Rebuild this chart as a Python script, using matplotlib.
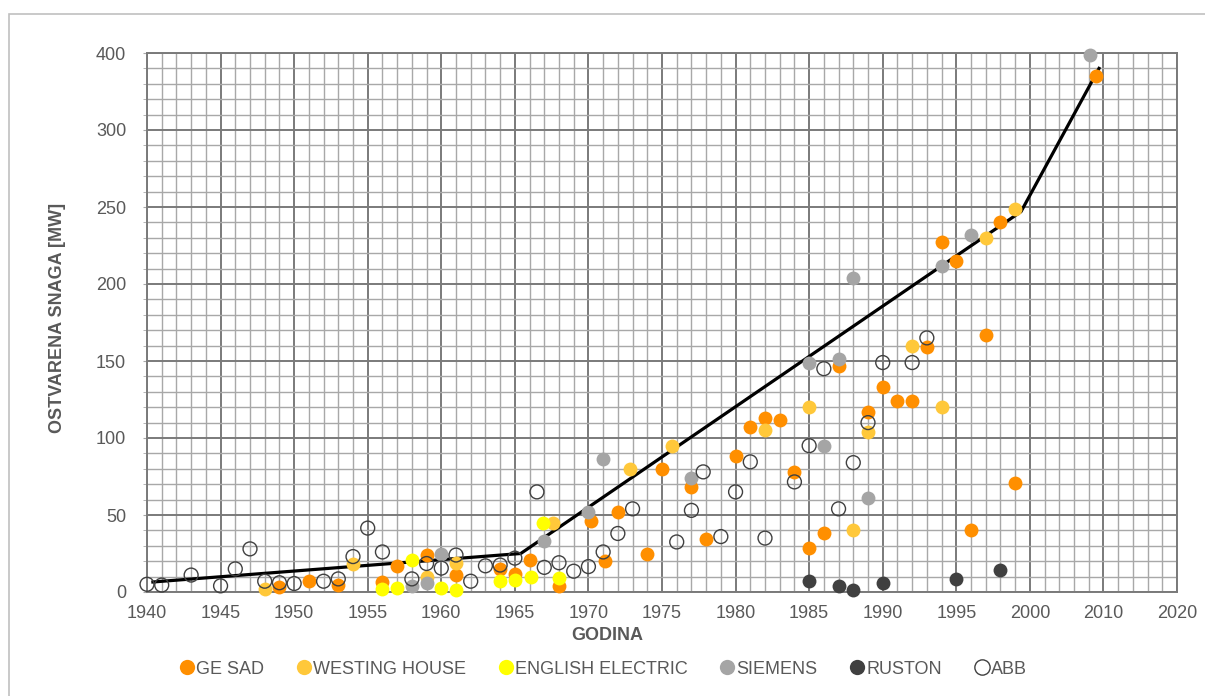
import matplotlib
matplotlib.use('Agg')
import matplotlib.pyplot as plt
from matplotlib.lines import Line2D
from matplotlib.patches import Rectangle
import numpy as np

plt.rcParams['font.family'] = ['Liberation Sans', 'DejaVu Sans']

# Data (positions in axis units)
ge_sad_x = [1949, 1951, 1953, 1956, 1957, 1959, 1961, 1964, 1965, 1966, 1968, 1970.2, 1971.1,
            1972, 1974, 1975, 1977, 1978, 1980, 1981, 1982, 1983, 1984, 1985, 1986, 1987,
            1989, 1990, 1991, 1992, 1993, 1994, 1995, 1996, 1997, 1998, 1999, 2004.5]
ge_sad_y = [3, 7, 4.5, 6.7, 17, 24, 11, 15, 12, 21, 4, 46, 20, 52, 25, 80, 68, 34.5, 88, 107,
            113, 112, 78, 28.5, 38, 147, 117, 133, 124, 124, 159, 227, 215, 40, 167, 240, 71, 335]

westing_x = [1948, 1954, 1959, 1961, 1967.6, 1972.8, 1975.7, 1982, 1985, 1988, 1989, 1992,
             1994, 1997, 1999]
westing_y = [2, 18, 10, 19, 45, 80, 94.5, 105, 120, 40, 104, 160, 120, 230, 249]

english_x = [1956, 1957, 1958, 1960, 1961, 1964, 1965, 1966.1, 1966.9, 1968]
english_y = [2, 2.4, 21, 2.4, 1.5, 7, 8, 10, 45, 9]

siemens_x = [1958, 1959, 1960, 1967, 1970, 1971, 1977, 1985, 1986, 1987, 1988, 1989, 1994,
             1996, 2004.1]
siemens_y = [4, 6, 25, 33, 52, 86.5, 74, 149, 95, 151, 204, 61, 212, 232, 349]

ruston_x = [1985, 1987, 1988, 1990, 1995, 1998]
ruston_y = [7, 4, 1.3, 5.6, 8.4, 14]

abb_x = [1940, 1941, 1943, 1945, 1946, 1947, 1948, 1949, 1950, 1952, 1953, 1954, 1955, 1956,
         1958, 1959, 1960, 1961, 1962, 1963, 1964, 1965, 1966.5, 1967, 1968, 1969, 1970,
         1971, 1972, 1973, 1976, 1977, 1977.8, 1979, 1980, 1981, 1982, 1984, 1985, 1986,
         1987, 1988, 1989, 1990, 1992, 1993]
abb_y = [5, 4.5, 11, 4, 15, 28, 7, 6, 5.5, 7, 8.5, 23, 41.5, 26, 8.5, 18.5, 15.5, 24, 7, 17,
         17.5, 22, 65, 16, 19, 13.5, 16.5, 26, 38, 54, 32.5, 53, 78, 36, 65, 84.5, 35, 71.5,
         95, 145, 54, 84, 110, 149, 149, 165]

trend_x = [1940.4, 1965.4, 1999.4, 2004.7]
trend_y = [6.5, 25, 247, 340]

x_ticks = list(range(1940, 2011, 5))
x_labels = ['1940', '1945', '1950', '1955', '1960', '1965', '1970', '1975', '1980',
            '1985', '1990', '1995', '2000', '2010', '2020']
y_ticks = list(range(0, 351, 50))
y_labels = ['0', '50', '100', '150', '200', '250', '300', '400']

series = [
    ('GE SAD', ge_sad_x, ge_sad_y, '#ff8f00', '#ff8f00'),
    ('WESTING HOUSE', westing_x, westing_y, '#ffc83a', '#ffc83a'),
    ('ENGLISH ELECTRIC', english_x, english_y, '#ffff00', '#ffff00'),
    ('SIEMENS', siemens_x, siemens_y, '#a5a5a5', '#a5a5a5'),
    ('RUSTON', ruston_x, ruston_y, '#404040', '#404040'),
    ('ABB', abb_x, abb_y, 'none', '#404040'),
]

text_color = '#595959'
fig = plt.figure(figsize=(12.05, 6.96), dpi=100)
ax = fig.add_axes([147 / 1205, 1 - 592 / 696, (1177 - 147) / 1205, (592 - 53) / 696])

# outer frame of the chart area
fig.patches.append(Rectangle((9 / 1205, -0.1), 1.2, 1.1 - 14 / 696, transform=fig.transFigure,
                             fill=False, edgecolor='#c0c0c0', linewidth=1.2, zorder=0))

ax.set_xlim(1940, 2010)
ax.set_ylim(0, 350)
ax.set_xticks(x_ticks)
ax.set_xticklabels(x_labels)
ax.set_xticks(np.arange(1940, 2011, 1), minor=True)
ax.set_yticks(y_ticks)
ax.set_yticklabels(y_labels)
ax.set_yticks(np.arange(0, 351, 10), minor=True)

ax.grid(which='minor', color='#a8a8a8', linewidth=1.0)
ax.grid(which='major', color='#7a7a7a', linewidth=1.4)
ax.set_axisbelow(True)
for s in ax.spines.values():
    s.set_color('#7a7a7a')
    s.set_linewidth(1.4)

ax.tick_params(axis='x', which='both', length=0, pad=9, labelsize=13, labelcolor=text_color)
ax.tick_params(axis='y', which='both', length=3, color='#a8a8a8', pad=12, labelsize=13,
               labelcolor=text_color)

ax.plot(trend_x, trend_y, color='black', linewidth=2.3, zorder=2)

handles = []
for name, xs, ys, face, edge in series:
    ax.scatter(xs, ys, s=100, facecolors=face, edgecolors=edge,
               linewidths=1.0 if face == 'none' else 0, zorder=3, clip_on=False)
    handles.append(Line2D([], [], linestyle='none', marker='o', markersize=11,
                          markerfacecolor=face, markeredgecolor=edge,
                          markeredgewidth=1.0 if face == 'none' else 0, label=name))

fig.text(607 / 1205, 1 - 636 / 696, 'GODINA', ha='center', va='center', fontsize=13,
         fontweight='bold', color=text_color)
fig.text(58 / 1205, 1 - 318 / 696, 'OSTVARENA SNAGA [MW]', ha='center', va='center',
         rotation=90, fontsize=13, fontweight='bold', color=text_color)

fig.legend(handles=handles, loc='center', bbox_to_anchor=(0.5, 1 - 669 / 696), ncol=6,
           frameon=False, fontsize=13, labelcolor=text_color, handletextpad=0.0,
           columnspacing=1.7, handlelength=1.0)

fig.savefig('out.png', dpi=100)
